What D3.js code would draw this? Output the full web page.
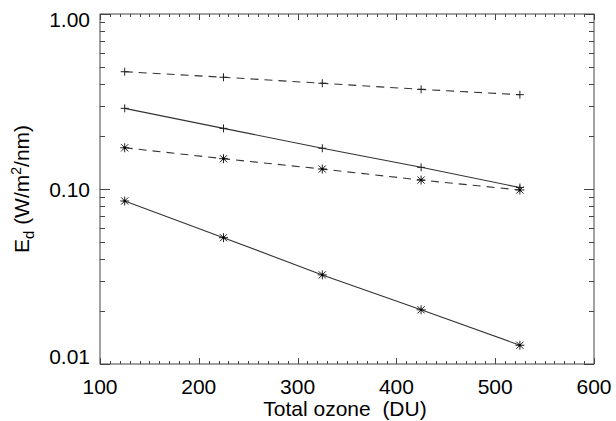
<!DOCTYPE html>
<html><head><meta charset="utf-8">
<script src="https://cdn.jsdelivr.net/npm/d3@7"></script>
<style>html,body{margin:0;padding:0;background:#fff}svg{display:block}text{font-family:"Liberation Sans",Arial,Helvetica,sans-serif;fill:#000}</style>
</head><body><svg id="c" width="616" height="421"></svg>
<script>
const ozone = [125, 225, 325, 425, 525];
const dashedPlus = [0.468, 0.435, 0.402, 0.371, 0.346];
const solidPlus = [0.289, 0.222, 0.171, 0.133, 0.102];
const dashedStar = [0.172, 0.149, 0.130, 0.1125, 0.0987];
const solidStar = [0.0854, 0.0527, 0.0323, 0.0204, 0.0128];
const xTicks = [100, 200, 300, 400, 500, 600];
const yTicks = [1.0, 0.1, 0.01];
const yTickLabels = ["1.00", "0.10", "0.01"];

const series = [
  {vals: dashedPlus, dash: "8,6", marker: "plus"},
  {vals: solidPlus, dash: null, marker: "plus"},
  {vals: dashedStar, dash: "8,6", marker: "star"},
  {vals: solidStar, dash: null, marker: "star"}
];

const L = 100, R = 594, T = 14, B = 364;
const svg = d3.select("#c");
const x = d3.scaleLinear().domain([100, 600]).range([L, R]);
const y = d3.scaleLog().domain([0.01, 1]).range([B, T]);
const axCol = "#444";

svg.append("rect").attr("x", L).attr("y", T).attr("width", R - L).attr("height", B - T)
  .attr("fill", "none").attr("stroke", axCol).attr("stroke-width", 1);

const xMinor = d3.range(100, 601, 10);
const g = svg.append("g").attr("stroke", axCol).attr("stroke-width", 1);
xMinor.forEach(v => {
  const major = v % 100 === 0;
  const len = major ? 6 : 3;
  const px = Math.round(x(v)) + 0.5;
  g.append("line").attr("x1", px).attr("x2", px).attr("y1", B).attr("y2", B - len);
  g.append("line").attr("x1", px).attr("x2", px).attr("y1", T).attr("y2", T + len);
});
const yMinor = [];
[0.01, 0.1].forEach(d => { for (let k = 1; k <= 10; k++) yMinor.push(d * k); });
yMinor.forEach(v => {
  const major = yTicks.some(t => Math.abs(t - v) < 1e-9);
  const len = major ? 10 : 5;
  const py = Math.round(y(v)) + 0.5;
  g.append("line").attr("x1", L).attr("x2", L + len).attr("y1", py).attr("y2", py);
  g.append("line").attr("x1", R).attr("x2", R - len).attr("y1", py).attr("y2", py);
});

svg.selectAll(".xl").data(xTicks).enter().append("text")
  .attr("x", d => x(d)).attr("y", B + 30).attr("text-anchor", "middle")
  .attr("font-size", 21).text(d => d);
const yOff = [13, 8, 0];
svg.selectAll(".yl").data(yTicks).enter().append("text")
  .attr("x", L - 10).attr("y", (d, i) => y(d) + yOff[i]).attr("text-anchor", "end")
  .attr("font-size", 21).text((d, i) => yTickLabels[i]);

svg.append("text").attr("x", x(350) - 2).attr("y", 416).attr("text-anchor", "middle")
  .attr("font-size", 21).style("white-space", "pre").text("Total ozone  (DU)");
const yt = svg.append("text").attr("transform", `translate(29,${(T + B) / 2}) rotate(-90)`)
  .attr("text-anchor", "middle").attr("font-size", 21);
yt.append("tspan").text("E");
yt.append("tspan").attr("font-size", 15).attr("dy", 5).text("d");
yt.append("tspan").attr("dy", -5).text(" (W/m");
yt.append("tspan").attr("font-size", 14).attr("dy", -8).text("2");
yt.append("tspan").attr("dy", 8).text("/nm)");

const line = d3.line().x((d, i) => x(ozone[i])).y(d => y(d));
const lineCol = "#333";
series.forEach(s => {
  svg.append("path").attr("d", line(s.vals)).attr("fill", "none")
    .attr("stroke", lineCol).attr("stroke-width", 1.1)
    .attr("stroke-dasharray", s.dash);
  const mg = svg.append("g").attr("stroke", "#222").attr("stroke-width", 1);
  s.vals.forEach((v, i) => {
    const cx = x(ozone[i]), cy = y(v);
    const r = s.marker === "star" ? 4.5 : 4;
    mg.append("line").attr("x1", cx - r).attr("x2", cx + r).attr("y1", cy).attr("y2", cy);
    mg.append("line").attr("x1", cx).attr("x2", cx).attr("y1", cy - r).attr("y2", cy + r);
    if (s.marker === "star") {
      const q = 3.6;
      mg.append("line").attr("x1", cx - q).attr("x2", cx + q).attr("y1", cy - q).attr("y2", cy + q);
      mg.append("line").attr("x1", cx - q).attr("x2", cx + q).attr("y1", cy + q).attr("y2", cy - q);
      mg.append("circle").attr("cx", cx).attr("cy", cy).attr("r", 1.3).attr("fill", "#000").attr("stroke", "none");
    }
  });
});
</script></body></html>
